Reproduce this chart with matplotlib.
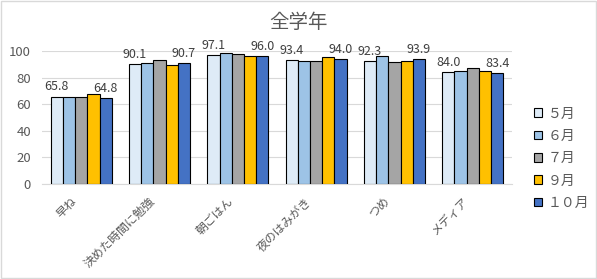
import numpy as np
import matplotlib.pyplot as plt
import matplotlib.transforms as mtrans
from matplotlib.patches import Rectangle

plt.rcParams['font.family'] = ['Noto Sans CJK JP', 'DejaVu Sans']

categories = ['早ね', '決めた時間に勉強', '朝ごはん', '夜のはみがき', 'つめ', 'メディア']
months = ['５月', '６月', '７月', '９月', '１０月']
may = [65.8, 90.1, 97.1, 93.4, 92.3, 84.0]
jun = [65.2, 91.3, 98.3, 92.6, 96.5, 84.8]
jul = [65.8, 93.2, 98.0, 92.6, 92.0, 87.5]
sep = [67.8, 89.6, 96.5, 95.6, 92.7, 85.3]
octo = [64.8, 90.7, 96.0, 94.0, 93.9, 83.4]
series = [may, jun, jul, sep, octo]
colors = ['#DEEBF7', '#9DC3E6', '#A5A5A5', '#FFC000', '#4472C4']
labelled = [0, 4]

fig = plt.figure(figsize=(5.97, 2.79), dpi=100)
ax = fig.add_axes([0.0704, 0.3405, 0.7872, 0.4765])

x = np.arange(len(categories))
w = 0.156
for i, vals in enumerate(series):
    pos = x + (i - 2) * w
    ax.bar(pos, vals, w, color=colors[i], edgecolor='black', linewidth=0.8,
           label=months[i], zorder=3)
    if i in labelled:
        for p, v in zip(pos, vals):
            ax.text(p, v + 2.5, f'{v:.1f}', ha='center', va='bottom',
                    fontsize=9, color='#404040', clip_on=False)

ax.set_xlim(-0.5, len(categories) - 0.5)
ax.set_ylim(0, 100)
ax.set_yticks([0, 20, 40, 60, 80, 100])
ax.yaxis.grid(True, color='#D9D9D9', linewidth=0.8, zorder=0)
for s in ['top', 'right', 'left']:
    ax.spines[s].set_visible(False)
ax.spines['bottom'].set_color('#D9D9D9')
ax.tick_params(axis='y', length=0, labelsize=9.5, labelcolor='#595959', pad=8)
ax.tick_params(axis='x', length=0, labelsize=8.5, labelcolor='#595959')
ax.set_xticks(x)
ax.set_xticklabels(categories, rotation=45, ha='right', rotation_mode='anchor')
off = mtrans.ScaledTranslation(-11 / 100, -6 / 100, fig.dpi_scale_trans)
for lab in ax.get_xticklabels():
    lab.set_transform(lab.get_transform() + off)

fig.text(0.5, 0.92, '全学年', ha='center', va='center', fontsize=14, color='#595959')

fig.legend(loc='upper left', bbox_to_anchor=(0.873, 0.663), frameon=False,
           fontsize=10, labelcolor='#595959', handlelength=0.6, handleheight=0.6,
           handletextpad=0.4, labelspacing=0.6)

fig.patches.append(Rectangle((0.002, 0.004), 0.996, 0.992, transform=fig.transFigure,
                             fill=False, edgecolor='#D9D9D9', linewidth=1))

fig.savefig('out.png', dpi=100)
